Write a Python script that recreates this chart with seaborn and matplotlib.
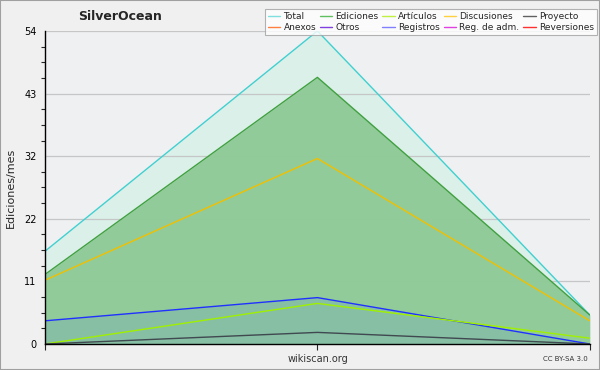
import matplotlib
matplotlib.use("Agg")
import matplotlib.pyplot as plt
import seaborn as sns
import pandas as pd
import numpy as np
from matplotlib.lines import Line2D
from matplotlib.ticker import FixedLocator, MultipleLocator

# ---- data ----
periods = [0, 1, 2]
total = [16, 54, 5]
ediciones = [12, 46, 5]
discusiones = [11, 32, 4]
registros = [4, 8, 0]
articulos = [0, 7, 1]
proyecto = [0, 2, 0]

ytick_vals = [0, 10.8, 21.6, 32.4, 43.2, 54]
ytick_labels = ["0", "11", "22", "32", "43", "54"]

legend_labels = ["Total", "Ediciones", "Artículos", "Discusiones", "Proyecto",
                 "Anexos", "Otros", "Registros", "Reg. de adm.", "Reversiones"]
legend_colors = ["#80e0e0", "#60c060", "#c0f040", "#ffd040", "#606060",
                 "#ff8040", "#8040e0", "#8080ff", "#e040e0", "#ff3030"]

sns.set_style("white")
plt.rcParams['font.family'] = ['DejaVu Sans']

fig = plt.figure(figsize=(6, 3.7), dpi=100, facecolor="#f0f0f0")
ax = fig.add_axes([0.075, 0.0703, 0.908, 0.846])
ax.set_facecolor("#eff0f2")

df = pd.DataFrame({"x": periods, "total": total, "ediciones": ediciones,
                   "discusiones": discusiones, "registros": registros,
                   "articulos": articulos, "proyecto": proyecto})

ax.fill_between(df["x"], 0, df["total"], color="#daf0e8", zorder=1, lw=0)
ax.fill_between(df["x"], 0, df["ediciones"], color="#8fca97", alpha=0.96, zorder=3, lw=0)
ax.fill_between(df["x"], 0, df["registros"], color="#86bfa4", zorder=3.5, lw=0)

for col, c in [("total", "#40d0d0"), ("ediciones", "#40a040"),
               ("discusiones", "#f0c000"), ("registros", "#2030ff"),
               ("articulos", "#a0f000"), ("proyecto", "#404850")]:
    sns.lineplot(data=df, x="x", y=col, color=c, lw=1.0, ax=ax, zorder=5)

ax.set_xlim(0, 2)
ax.set_ylim(0, 54)
ax.yaxis.set_major_locator(FixedLocator(ytick_vals))
ax.set_yticklabels(ytick_labels)
ax.yaxis.set_minor_locator(MultipleLocator(2.7))
ax.set_xticks([0, 1, 2])
ax.set_xticklabels([])
ax.grid(axis="y", which="major", color="#c4c6c8", alpha=1.0, lw=0.9)
ax.set_axisbelow(False)
for g in ax.get_ygridlines():
    g.set_zorder(2)
ax.tick_params(axis="y", which="major", length=5, width=0.8, labelsize=7, pad=1, colors="black")
ax.tick_params(axis="y", which="minor", length=3, width=0.8, left=True)
ax.tick_params(axis="x", which="major", length=4, width=0.8, direction="out", bottom=True)
for s in ["top", "right"]:
    ax.spines[s].set_visible(False)
for s in ["left", "bottom"]:
    ax.spines[s].set_color("black")
    ax.spines[s].set_linewidth(1.0)
    ax.spines[s].set_zorder(6)

ax.set_xlabel("")
ax.set_ylabel("Ediciones/mes", fontsize=8, labelpad=6)
fig.text(0.2, 0.955, "SilverOcean", fontsize=9, fontweight="bold", ha="center", va="center")
fig.text(0.53, 0.03, "wikiscan.org", fontsize=7, ha="center", va="center", color="#333333")
fig.text(0.98, 0.03, "CC BY-SA 3.0", fontsize=5, ha="right", va="center", color="#333333")

handles = [Line2D([0], [0], color=c, lw=1) for c in legend_colors]
order = [0, 5, 1, 6, 2, 7, 3, 8, 4, 9]
leg = fig.legend([handles[i] for i in order], [legend_labels[i] for i in order],
                 ncol=5, loc="upper right", bbox_to_anchor=(0.995, 0.975),
                 fontsize=6.5, frameon=True, fancybox=False, shadow=False,
                 handlelength=1.4, handletextpad=0.35, columnspacing=0.4,
                 labelspacing=0.15, borderpad=0.35, borderaxespad=0)
leg.get_frame().set_edgecolor("#a0a0a0")
leg.get_frame().set_facecolor("white")
leg.get_frame().set_linewidth(0.8)
leg.set_zorder(10)

fig.patches.append(plt.Rectangle((0, 0), 1, 1, transform=fig.transFigure,
                                 fill=False, edgecolor="#a0a0a0", lw=1.5))
fig.savefig("out.png", dpi=100, facecolor=fig.get_facecolor())
